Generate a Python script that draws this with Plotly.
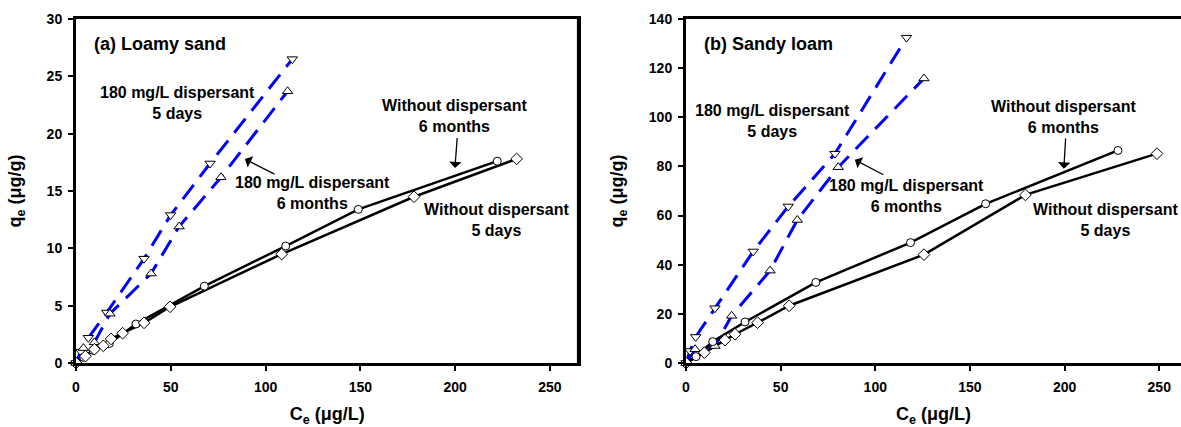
import plotly.graph_objects as go

# ---------------- (a) Loamy sand ----------------
a_disp5d_C = [0, 2.5, 6.5, 16.2, 35.9, 49.9, 70.7, 114.1]
a_disp5d_q = [0, 1.0, 2.2, 4.4, 9.1, 12.9, 17.4, 26.5]
a_disp6m_C = [0, 3.9, 9.7, 17.9, 39.6, 54.4, 76.5, 111.6]
a_disp6m_q = [0, 1.3, 1.8, 4.3, 7.8, 11.9, 16.2, 23.7]
a_none6m_C = [0, 4.0, 9.0, 17.6, 31.6, 67.7, 110.6, 148.9, 222.2]
a_none6m_q = [0, 0.5, 1.1, 1.7, 3.4, 6.7, 10.2, 13.4, 17.6]
a_none5d_C = [0, 5.0, 9.7, 14.4, 18.5, 24.6, 35.9, 49.6, 108.5, 178.3, 232.4]
a_none5d_q = [0, 0.6, 1.2, 1.5, 2.1, 2.6, 3.5, 4.9, 9.5, 14.5, 17.8]

# ---------------- (b) Sandy loam ----------------
b_disp5d_C = [0, 2.1, 5.1, 15.3, 35.5, 54.0, 78.7, 116.5]
b_disp5d_q = [0, 4.9, 10.6, 22.3, 45.4, 63.7, 85.2, 132.4]
b_disp6m_C = [0, 4.8, 15.3, 24.1, 44.4, 58.8, 80.4, 125.7]
b_disp6m_q = [0, 5.6, 6.9, 19.2, 37.6, 58.2, 79.7, 115.8]
b_none6m_C = [0, 5.3, 14.1, 31.2, 68.6, 118.6, 158.3, 228.2]
b_none6m_q = [0, 2.6, 8.7, 16.7, 32.8, 49.0, 64.8, 86.5]
b_none5d_C = [0, 9.7, 20.6, 25.9, 37.8, 54.5, 125.7, 179.3, 248.8]
b_none5d_q = [0, 4.2, 9.3, 11.7, 16.4, 23.3, 44.1, 68.4, 85.2]

x_ticks = [0, 50, 100, 150, 200, 250]
a_y_ticks = [0, 5, 10, 15, 20, 25, 30]
b_y_ticks = [0, 20, 40, 60, 80, 100, 120, 140]

FONT = "Liberation Sans, Arial, sans-serif"
BLUE = "#0000ff"

fig = go.Figure()

panels = [
    ("x", "y", [
        (a_disp5d_C, a_disp5d_q, "triangle-down", 9, True),
        (a_disp6m_C, a_disp6m_q, "triangle-up", 9, True),
        (a_none6m_C, a_none6m_q, "circle", 8, False),
        (a_none5d_C, a_none5d_q, "diamond", 9, False),
    ]),
    ("x2", "y2", [
        (b_disp5d_C, b_disp5d_q, "triangle-down", 9, True),
        (b_disp6m_C, b_disp6m_q, "triangle-up", 9, True),
        (b_none6m_C, b_none6m_q, "circle", 8, False),
        (b_none5d_C, b_none5d_q, "diamond", 9, False),
    ]),
]

# connecting lines first, open markers on top
for xa, ya, series in panels:
    for C, q, sym, sz, disp in series:
        fig.add_trace(go.Scatter(
            x=C, y=q, mode="lines", xaxis=xa, yaxis=ya, showlegend=False,
            line=dict(color=BLUE if disp else "black", width=3 if disp else 2.5,
                      dash="18px,10px" if disp else "solid"),
            cliponaxis=False, hoverinfo="skip"))
for xa, ya, series in panels:
    for C, q, sym, sz, disp in series:
        fig.add_trace(go.Scatter(
            x=C, y=q, mode="markers", xaxis=xa, yaxis=ya, showlegend=False,
            marker=dict(symbol=sym, size=sz, color="white",
                        line=dict(color="black", width=1)),
            cliponaxis=False))

W, H = 1181, 427
top_px, bot_px = 19, 363
ydom = [(H - bot_px) / H, (H - top_px) / H]

axis_common = dict(
    showline=True, linecolor="black", linewidth=3, showgrid=False, zeroline=False,
    ticks="outside", ticklen=5, tickwidth=2, tickcolor="black", automargin=False,
    tickfont=dict(family=FONT, size=14, color="black", weight="bold"),
)

title_font = dict(family=FONT, size=18, color="black", weight="bold")

fig.update_layout(
    width=W, height=H, margin=dict(l=0, r=0, t=0, b=0),
    paper_bgcolor="white", plot_bgcolor="white",
    font=dict(family=FONT, color="black"),
    xaxis=dict(domain=[76 / W, 578.4 / W], range=[0, 265], tickvals=x_ticks,
               mirror=True, anchor="y", ticklabelstandoff=4,
               title=dict(text="C<sub>e</sub> (μg/L)", font=title_font, standoff=22),
               **axis_common),
    yaxis=dict(domain=ydom, range=[0, 30], tickvals=a_y_ticks, mirror=True, anchor="x",
               ticklabelstandoff=3,
               title=dict(text="q<sub>e</sub> (μg/g)", font=title_font, standoff=21),
               **axis_common),
    xaxis2=dict(domain=[686 / W, 1.0], range=[0, 261.5], tickvals=x_ticks,
                mirror=True, anchor="y2", ticklabelstandoff=4,
                title=dict(text="C<sub>e</sub> (μg/L)", font=title_font, standoff=22),
                **axis_common),
    yaxis2=dict(domain=ydom, range=[0, 140], tickvals=b_y_ticks, mirror=False, anchor="x2",
                ticklabelstandoff=3,
                title=dict(text="q<sub>e</sub> (μg/g)", font=title_font, standoff=21),
                **axis_common),
)

label_font = dict(family=FONT, size=16, color="black", weight="bold")
panel_font = dict(family=FONT, size=18, color="black", weight="bold")

labels = [
    ("x", "y", 8.3, 27.8, "(a) Loamy sand", "left", panel_font),
    ("x", "y", 53.4, 22.64, "180 mg/L dispersant<br>5 days", "center", label_font),
    ("x", "y", 124.7, 14.84, "180 mg/L dispersant<br>6 months", "center", label_font),
    ("x", "y", 199.6, 21.53, "Without dispersant<br>6 months", "center", label_font),
    ("x", "y", 221.6, 12.49, "Without dispersant<br>5 days", "center", label_font),
    ("x2", "y2", 8.3, 129.7, "(b) Sandy loam", "left", panel_font),
    ("x2", "y2", 45.7, 98.3, "180 mg/L dispersant<br>5 days", "center", label_font),
    ("x2", "y2", 116.4, 67.8, "180 mg/L dispersant<br>6 months", "center", label_font),
    ("x2", "y2", 199.5, 100.3, "Without dispersant<br>6 months", "center", label_font),
    ("x2", "y2", 221.5, 58.0, "Without dispersant<br>5 days", "center", label_font),
]
for xr, yr, x, y, txt, anchor, fnt in labels:
    fig.add_annotation(xref=xr, yref=yr, x=x, y=y, text=txt, showarrow=False,
                       xanchor=anchor, yanchor="middle", align="center", font=fnt)

# pointer arrows: (head x, head y, tail x, tail y)
arrows = [
    ("x", "y", 89.1, 17.78, 105.5, 16.41),
    ("x", "y", 199.9, 17.0, 201.1, 19.75),
    ("x2", "y2", 89.2, 82.7, 105.1, 76.3),
    ("x2", "y2", 199.6, 79.1, 200.6, 91.96),
]
for xr, yr, hx, hy, tx, ty in arrows:
    fig.add_annotation(xref=xr, yref=yr, axref=xr, ayref=yr, x=hx, y=hy, ax=tx, ay=ty,
                       text="", showarrow=True, arrowhead=1, arrowsize=1.6,
                       arrowwidth=1.3, arrowcolor="black")

# closing right edge of panel (a)
fig.add_shape(type="line", xref="paper", yref="paper",
              x0=578.4 / W, x1=578.4 / W, y0=ydom[0], y1=ydom[1],
              line=dict(color="black", width=3))

fig.write_html("out.html")
